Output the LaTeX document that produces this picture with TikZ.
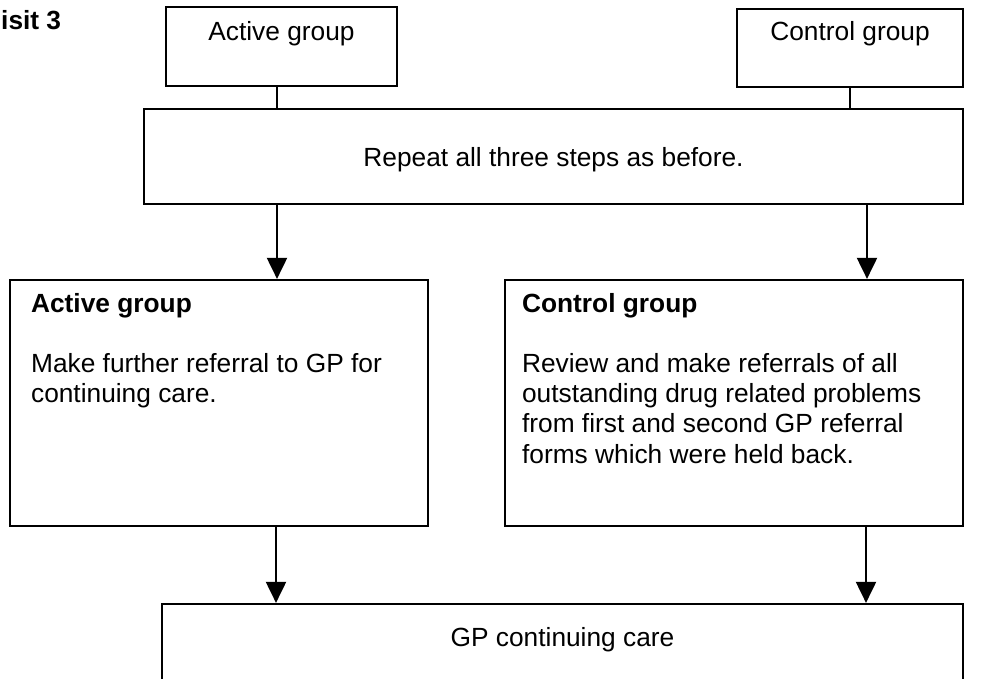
\documentclass[tikz,border=0pt]{standalone}
\usepackage{fontspec}
\setmainfont{Liberation Sans}
\usetikzlibrary{arrows.meta}
\begin{document}
\begin{tikzpicture}[x=1pt,y=1pt,
  box/.style={draw, line width=2.2pt, rectangle, inner sep=0pt},
  txt/.style={inner sep=0pt, font=\fontsize{26.3}{30.2}\selectfont},
  txtb/.style={inner sep=0pt, font=\fontsize{26.3}{30.2}\selectfont\bfseries},
  conn/.style={line width=2pt},
  arr/.style={line width=2pt, -{Triangle[length=21pt,width=20pt]}}]
\useasboundingbox (0,0) rectangle (982,678);
\fill[white] (0,0) rectangle (982,678);
\clip (0,0) rectangle (982,678);
% title
\node[txtb, anchor=base west] (visit) at (1,648) {isit 3};
% top boxes
\node[box, minimum width=231pt, minimum height=79pt] (actTop) at (281.5,631.5) {};
\node[txt, anchor=base] (actTopT) at ([yshift=-35pt]actTop.north) {Active group};
\node[box, minimum width=226pt, minimum height=78pt] (conTop) at (850,630) {};
\node[txt, anchor=base] (conTopT) at ([yshift=-33pt]conTop.north) {Control group};
% repeat box
\node[box, minimum width=819pt, minimum height=95pt] (rep) at (553.5,521.5) {};
\node[txt, anchor=base] (repT) at ([yshift=-59pt]rep.north) {Repeat all three steps as before.};
% lower boxes
\node[box, minimum width=418pt, minimum height=246pt] (lowA) at (219,275) {};
\node[txt, anchor=north west, align=left] (lowAT) at ([xshift=22pt,yshift=-11pt]lowA.north west)
  {\rule{0pt}{22pt}\textbf{Active group}\\[30.2pt]Make further referral to GP for\\continuing care.};
\node[box, minimum width=458pt, minimum height=246pt] (lowC) at (734,275) {};
\node[txt, anchor=north west, align=left] (lowCT) at ([xshift=18pt,yshift=-11pt]lowC.north west)
  {\rule{0pt}{22pt}\textbf{Control group}\\[30.2pt]Review and make referrals of all\\outstanding drug related problems\\from first and second GP referral\\forms which were held back.};
% bottom box
\node[box, minimum width=801pt, minimum height=120pt] (gp) at (562.5,14) {};
\node[txt, anchor=base] (gpT) at ([yshift=-44pt]gp.north) {GP continuing care};
% x positions of connectors
\coordinate (xa) at (277,0);
\coordinate (xc) at (850,0);
\coordinate (xar) at (867,0);
\coordinate (xla) at (276,0);
\coordinate (xlc) at (866,0);
% connectors
\draw[conn] (actTop.south -| xa) -- (rep.north -| xa);
\draw[conn] (conTop.south -| xc) -- (rep.north -| xc);
\draw[arr] (rep.south -| xa) -- (lowA.north -| xa);
\draw[arr] (rep.south -| xar) -- (lowC.north -| xar);
\draw[arr] (lowA.south -| xla) -- (gp.north -| xla);
\draw[arr] (lowC.south -| xlc) -- (gp.north -| xlc);
\end{tikzpicture}
\end{document}
